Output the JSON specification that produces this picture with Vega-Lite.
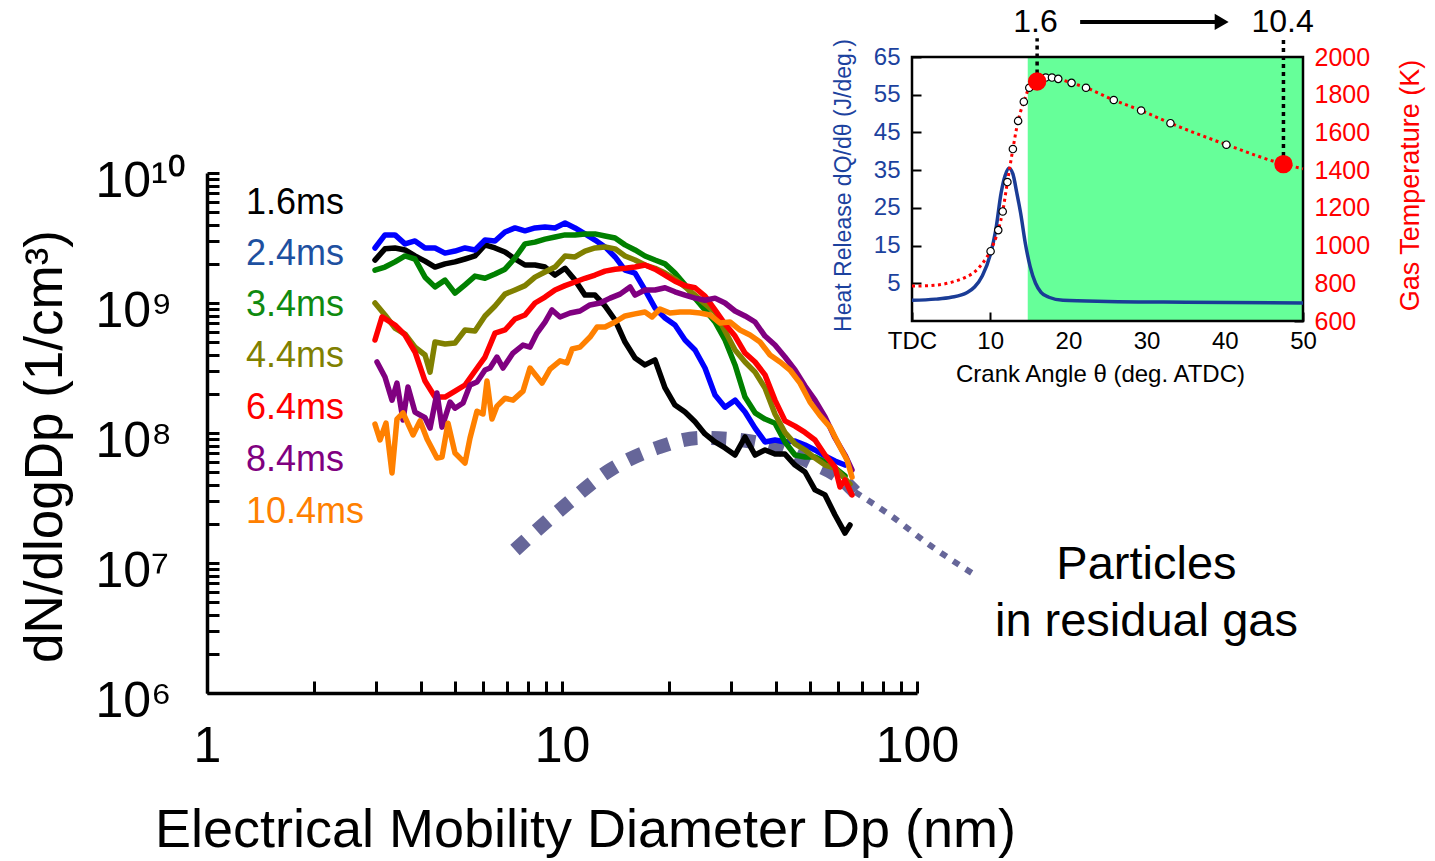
{
  "$schema": "https://vega.github.io/schema/vega-lite/v6.json",
  "width": 710,
  "height": 520,
  "autosize": {"type": "none"},
  "padding": {"left": 207, "top": 173, "right": 518, "bottom": 168},
  "background": "white",
  "config": {
    "view": {"stroke": null},
    "axis": {"labelFont": "Liberation Sans", "titleFont": "Liberation Sans"},
    "text": {"font": "Liberation Sans"}
  },
  "datasets": {
    "psd": [
      {"t":"1.6ms","d":2.973,"n":2.14e9},{"t":"1.6ms","d":3.172,"n":2.61e9},{"t":"1.6ms","d":3.385,"n":2.65e9},{"t":"1.6ms","d":3.612,"n":2.56e9},{"t":"1.6ms","d":3.854,"n":2.30e9},{"t":"1.6ms","d":4.113,"n":2.10e9},{"t":"1.6ms","d":4.388,"n":1.89e9},{"t":"1.6ms","d":4.682,"n":2.00e9},{"t":"1.6ms","d":4.996,"n":2.07e9},{"t":"1.6ms","d":5.331,"n":2.18e9},{"t":"1.6ms","d":5.687,"n":2.30e9},{"t":"1.6ms","d":6.069,"n":2.80e9},{"t":"1.6ms","d":6.476,"n":2.65e9},{"t":"1.6ms","d":6.909,"n":2.47e9},{"t":"1.6ms","d":7.372,"n":2.18e9},{"t":"1.6ms","d":7.866,"n":1.96e9},{"t":"1.6ms","d":8.394,"n":1.96e9},{"t":"1.6ms","d":8.957,"n":1.89e9},{"t":"1.6ms","d":9.557,"n":1.64e9},{"t":"1.6ms","d":10.20,"n":1.85e9},{"t":"1.6ms","d":10.88,"n":1.50e9},{"t":"1.6ms","d":11.61,"n":1.15e9},{"t":"1.6ms","d":12.39,"n":1.15e9},{"t":"1.6ms","d":13.22,"n":9.49e8},{"t":"1.6ms","d":14.11,"n":7.40e8},{"t":"1.6ms","d":15.05,"n":5.01e8},{"t":"1.6ms","d":16.06,"n":3.78e8},{"t":"1.6ms","d":17.13,"n":3.34e8},{"t":"1.6ms","d":18.28,"n":3.65e8},{"t":"1.6ms","d":19.51,"n":2.22e8},{"t":"1.6ms","d":20.81,"n":1.64e8},{"t":"1.6ms","d":22.21,"n":1.45e8},{"t":"1.6ms","d":23.70,"n":1.22e8},{"t":"1.6ms","d":25.28,"n":9.83e7},{"t":"1.6ms","d":26.98,"n":8.53e7},{"t":"1.6ms","d":28.79,"n":7.67e7},{"t":"1.6ms","d":30.72,"n":6.77e7},{"t":"1.6ms","d":32.78,"n":9.32e7},{"t":"1.6ms","d":34.98,"n":6.77e7},{"t":"1.6ms","d":37.31,"n":7.40e7},{"t":"1.6ms","d":39.81,"n":6.89e7},{"t":"1.6ms","d":42.48,"n":6.89e7},{"t":"1.6ms","d":45.33,"n":5.67e7},{"t":"1.6ms","d":48.37,"n":5.01e7},{"t":"1.6ms","d":51.61,"n":3.65e7},{"t":"1.6ms","d":55.07,"n":3.34e7},{"t":"1.6ms","d":58.75,"n":2.34e7},{"t":"1.6ms","d":62.69,"n":1.70e7},{"t":"1.6ms","d":64.76,"n":1.96e7},
      {"t":"2.4ms","d":2.973,"n":2.65e9},{"t":"2.4ms","d":3.172,"n":3.34e9},{"t":"2.4ms","d":3.385,"n":3.34e9},{"t":"2.4ms","d":3.612,"n":2.85e9},{"t":"2.4ms","d":3.854,"n":3.00e9},{"t":"2.4ms","d":4.113,"n":2.65e9},{"t":"2.4ms","d":4.388,"n":2.65e9},{"t":"2.4ms","d":4.682,"n":2.42e9},{"t":"2.4ms","d":4.996,"n":2.51e9},{"t":"2.4ms","d":5.331,"n":2.65e9},{"t":"2.4ms","d":5.687,"n":2.56e9},{"t":"2.4ms","d":6.069,"n":3.05e9},{"t":"2.4ms","d":6.476,"n":3.00e9},{"t":"2.4ms","d":6.909,"n":3.52e9},{"t":"2.4ms","d":7.372,"n":3.78e9},{"t":"2.4ms","d":7.866,"n":3.59e9},{"t":"2.4ms","d":8.394,"n":3.78e9},{"t":"2.4ms","d":8.957,"n":3.85e9},{"t":"2.4ms","d":9.557,"n":3.78e9},{"t":"2.4ms","d":10.20,"n":4.12e9},{"t":"2.4ms","d":10.88,"n":3.78e9},{"t":"2.4ms","d":11.61,"n":3.40e9},{"t":"2.4ms","d":12.39,"n":3.05e9},{"t":"2.4ms","d":13.22,"n":2.70e9},{"t":"2.4ms","d":14.11,"n":2.26e9},{"t":"2.4ms","d":15.05,"n":1.79e9},{"t":"2.4ms","d":16.06,"n":1.70e9},{"t":"2.4ms","d":17.13,"n":1.26e9},{"t":"2.4ms","d":18.28,"n":9.16e8},{"t":"2.4ms","d":19.51,"n":7.67e8},{"t":"2.4ms","d":20.81,"n":6.77e8},{"t":"2.4ms","d":22.21,"n":5.19e8},{"t":"2.4ms","d":23.70,"n":4.35e8},{"t":"2.4ms","d":25.28,"n":3.16e8},{"t":"2.4ms","d":26.98,"n":1.96e8},{"t":"2.4ms","d":28.79,"n":1.58e8},{"t":"2.4ms","d":30.72,"n":1.79e8},{"t":"2.4ms","d":32.78,"n":1.45e8},{"t":"2.4ms","d":34.98,"n":1.09e8},{"t":"2.4ms","d":37.31,"n":8.53e7},{"t":"2.4ms","d":39.81,"n":8.84e7},{"t":"2.4ms","d":42.48,"n":8.53e7},{"t":"2.4ms","d":45.33,"n":8.68e7},{"t":"2.4ms","d":48.37,"n":8.09e7},{"t":"2.4ms","d":51.61,"n":7.40e7},{"t":"2.4ms","d":55.07,"n":6.65e7},{"t":"2.4ms","d":58.75,"n":6.09e7},{"t":"2.4ms","d":62.69,"n":5.67e7},
      {"t":"3.4ms","d":2.973,"n":1.79e9},{"t":"3.4ms","d":3.172,"n":1.89e9},{"t":"3.4ms","d":3.385,"n":2.07e9},{"t":"3.4ms","d":3.612,"n":2.30e9},{"t":"3.4ms","d":3.854,"n":2.18e9},{"t":"3.4ms","d":4.113,"n":1.58e9},{"t":"3.4ms","d":4.388,"n":1.33e9},{"t":"3.4ms","d":4.682,"n":1.50e9},{"t":"3.4ms","d":4.996,"n":1.19e9},{"t":"3.4ms","d":5.331,"n":1.38e9},{"t":"3.4ms","d":5.687,"n":1.61e9},{"t":"3.4ms","d":6.069,"n":1.55e9},{"t":"3.4ms","d":6.476,"n":1.67e9},{"t":"3.4ms","d":6.909,"n":1.82e9},{"t":"3.4ms","d":7.372,"n":2.22e9},{"t":"3.4ms","d":7.866,"n":2.85e9},{"t":"3.4ms","d":8.394,"n":2.94e9},{"t":"3.4ms","d":8.957,"n":3.10e9},{"t":"3.4ms","d":9.557,"n":3.22e9},{"t":"3.4ms","d":10.20,"n":3.34e9},{"t":"3.4ms","d":10.88,"n":3.34e9},{"t":"3.4ms","d":11.61,"n":3.40e9},{"t":"3.4ms","d":12.39,"n":3.40e9},{"t":"3.4ms","d":13.22,"n":3.28e9},{"t":"3.4ms","d":14.11,"n":3.16e9},{"t":"3.4ms","d":15.05,"n":2.80e9},{"t":"3.4ms","d":16.06,"n":2.56e9},{"t":"3.4ms","d":17.13,"n":2.30e9},{"t":"3.4ms","d":18.28,"n":2.14e9},{"t":"3.4ms","d":19.51,"n":2.00e9},{"t":"3.4ms","d":20.81,"n":1.70e9},{"t":"3.4ms","d":22.21,"n":1.38e9},{"t":"3.4ms","d":23.70,"n":1.09e9},{"t":"3.4ms","d":25.28,"n":8.84e8},{"t":"3.4ms","d":26.98,"n":7.14e8},{"t":"3.4ms","d":28.79,"n":5.19e8},{"t":"3.4ms","d":30.72,"n":3.34e8},{"t":"3.4ms","d":32.78,"n":1.89e8},{"t":"3.4ms","d":34.98,"n":1.43e8},{"t":"3.4ms","d":37.31,"n":1.28e8},{"t":"3.4ms","d":39.81,"n":1.19e8},{"t":"3.4ms","d":42.48,"n":8.53e7},{"t":"3.4ms","d":45.33,"n":6.77e7},{"t":"3.4ms","d":48.37,"n":6.53e7},{"t":"3.4ms","d":51.61,"n":6.53e7},{"t":"3.4ms","d":55.07,"n":5.98e7},{"t":"3.4ms","d":58.75,"n":5.38e7},{"t":"3.4ms","d":62.69,"n":4.67e7},
      {"t":"4.4ms","d":2.973,"n":1.00e9},{"t":"4.4ms","d":3.172,"n":8.09e8},{"t":"4.4ms","d":3.385,"n":6.42e8},{"t":"4.4ms","d":3.612,"n":5.77e8},{"t":"4.4ms","d":3.854,"n":4.58e8},{"t":"4.4ms","d":4.113,"n":3.98e8},{"t":"4.4ms","d":4.249,"n":2.94e8},{"t":"4.4ms","d":4.388,"n":5.01e8},{"t":"4.4ms","d":4.682,"n":4.84e8},{"t":"4.4ms","d":4.996,"n":4.92e8},{"t":"4.4ms","d":5.331,"n":6.20e8},{"t":"4.4ms","d":5.687,"n":6.09e8},{"t":"4.4ms","d":6.069,"n":7.95e8},{"t":"4.4ms","d":6.476,"n":9.49e8},{"t":"4.4ms","d":6.909,"n":1.17e9},{"t":"4.4ms","d":7.372,"n":1.26e9},{"t":"4.4ms","d":7.866,"n":1.36e9},{"t":"4.4ms","d":8.394,"n":1.58e9},{"t":"4.4ms","d":8.957,"n":1.73e9},{"t":"4.4ms","d":9.557,"n":1.89e9},{"t":"4.4ms","d":10.20,"n":2.30e9},{"t":"4.4ms","d":10.88,"n":2.26e9},{"t":"4.4ms","d":11.61,"n":2.51e9},{"t":"4.4ms","d":12.39,"n":2.65e9},{"t":"4.4ms","d":13.22,"n":2.70e9},{"t":"4.4ms","d":14.11,"n":2.61e9},{"t":"4.4ms","d":15.05,"n":2.30e9},{"t":"4.4ms","d":16.06,"n":2.14e9},{"t":"4.4ms","d":17.13,"n":1.96e9},{"t":"4.4ms","d":18.28,"n":1.85e9},{"t":"4.4ms","d":19.51,"n":1.70e9},{"t":"4.4ms","d":20.81,"n":1.53e9},{"t":"4.4ms","d":22.21,"n":1.33e9},{"t":"4.4ms","d":23.70,"n":1.15e9},{"t":"4.4ms","d":25.28,"n":9.83e8},{"t":"4.4ms","d":26.98,"n":8.53e8},{"t":"4.4ms","d":28.79,"n":6.09e8},{"t":"4.4ms","d":30.72,"n":4.35e8},{"t":"4.4ms","d":32.78,"n":3.52e8},{"t":"4.4ms","d":34.98,"n":2.94e8},{"t":"4.4ms","d":37.31,"n":2.22e8},{"t":"4.4ms","d":39.81,"n":1.40e8},{"t":"4.4ms","d":42.48,"n":1.01e8},{"t":"4.4ms","d":45.33,"n":8.24e7},{"t":"4.4ms","d":48.37,"n":7.40e7},{"t":"4.4ms","d":51.61,"n":6.42e7},{"t":"4.4ms","d":55.07,"n":5.67e7},{"t":"4.4ms","d":58.75,"n":5.38e7},{"t":"4.4ms","d":64.76,"n":4.05e7},
      {"t":"6.4ms","d":2.973,"n":5.19e8},{"t":"6.4ms","d":3.111,"n":7.81e8},{"t":"6.4ms","d":3.385,"n":6.77e8},{"t":"6.4ms","d":3.612,"n":5.67e8},{"t":"6.4ms","d":3.854,"n":4.20e8},{"t":"6.4ms","d":4.113,"n":2.51e8},{"t":"6.4ms","d":4.388,"n":1.89e8},{"t":"6.4ms","d":4.682,"n":1.89e8},{"t":"6.4ms","d":4.996,"n":2.10e8},{"t":"6.4ms","d":5.331,"n":2.34e8},{"t":"6.4ms","d":5.687,"n":3.00e8},{"t":"6.4ms","d":6.069,"n":3.84e8},{"t":"6.4ms","d":6.476,"n":5.87e8},{"t":"6.4ms","d":6.909,"n":6.20e8},{"t":"6.4ms","d":7.372,"n":7.53e8},{"t":"6.4ms","d":7.866,"n":8.09e8},{"t":"6.4ms","d":8.394,"n":1.00e9},{"t":"6.4ms","d":8.957,"n":1.11e9},{"t":"6.4ms","d":9.557,"n":1.26e9},{"t":"6.4ms","d":10.20,"n":1.36e9},{"t":"6.4ms","d":10.88,"n":1.45e9},{"t":"6.4ms","d":11.61,"n":1.55e9},{"t":"6.4ms","d":12.39,"n":1.64e9},{"t":"6.4ms","d":13.22,"n":1.76e9},{"t":"6.4ms","d":14.11,"n":1.82e9},{"t":"6.4ms","d":15.05,"n":1.85e9},{"t":"6.4ms","d":16.06,"n":1.89e9},{"t":"6.4ms","d":17.13,"n":1.96e9},{"t":"6.4ms","d":18.28,"n":1.82e9},{"t":"6.4ms","d":19.51,"n":1.64e9},{"t":"6.4ms","d":20.81,"n":1.47e9},{"t":"6.4ms","d":22.21,"n":1.36e9},{"t":"6.4ms","d":23.70,"n":1.31e9},{"t":"6.4ms","d":25.28,"n":1.13e9},{"t":"6.4ms","d":26.98,"n":8.84e8},{"t":"6.4ms","d":28.79,"n":6.89e8},{"t":"6.4ms","d":30.72,"n":5.57e8},{"t":"6.4ms","d":32.78,"n":4.12e8},{"t":"6.4ms","d":34.98,"n":3.52e8},{"t":"6.4ms","d":37.31,"n":2.80e8},{"t":"6.4ms","d":39.81,"n":1.79e8},{"t":"6.4ms","d":42.48,"n":1.24e8},{"t":"6.4ms","d":45.33,"n":1.13e8},{"t":"6.4ms","d":48.37,"n":1.01e8},{"t":"6.4ms","d":51.61,"n":8.84e7},{"t":"6.4ms","d":55.07,"n":6.77e7},{"t":"6.4ms","d":58.75,"n":5.47e7},{"t":"6.4ms","d":60.70,"n":3.84e7},{"t":"6.4ms","d":62.69,"n":4.35e7},{"t":"6.4ms","d":65.6,"n":3.34e7},
      {"t":"8.4ms","d":3.012,"n":3.52e8},{"t":"8.4ms","d":3.172,"n":2.70e8},{"t":"8.4ms","d":3.320,"n":1.79e8},{"t":"8.4ms","d":3.429,"n":2.42e8},{"t":"8.4ms","d":3.566,"n":1.26e8},{"t":"8.4ms","d":3.683,"n":2.26e8},{"t":"8.4ms","d":3.854,"n":1.45e8},{"t":"8.4ms","d":4.113,"n":1.31e8},{"t":"8.4ms","d":4.249,"n":1.09e8},{"t":"8.4ms","d":4.445,"n":2.03e8},{"t":"8.4ms","d":4.592,"n":1.11e8},{"t":"8.4ms","d":4.837,"n":1.73e8},{"t":"8.4ms","d":4.996,"n":1.55e8},{"t":"8.4ms","d":5.263,"n":1.70e8},{"t":"8.4ms","d":5.507,"n":2.34e8},{"t":"8.4ms","d":5.761,"n":2.47e8},{"t":"8.4ms","d":6.069,"n":3.05e8},{"t":"8.4ms","d":6.269,"n":3.16e8},{"t":"8.4ms","d":6.560,"n":3.84e8},{"t":"8.4ms","d":6.820,"n":3.16e8},{"t":"8.4ms","d":7.277,"n":4.12e8},{"t":"8.4ms","d":7.765,"n":4.75e8},{"t":"8.4ms","d":8.126,"n":4.58e8},{"t":"8.4ms","d":8.503,"n":5.87e8},{"t":"8.4ms","d":8.957,"n":7.14e8},{"t":"8.4ms","d":9.372,"n":8.84e8},{"t":"8.4ms","d":9.873,"n":7.81e8},{"t":"8.4ms","d":10.54,"n":8.38e8},{"t":"8.4ms","d":11.24,"n":8.68e8},{"t":"8.4ms","d":11.99,"n":9.66e8},{"t":"8.4ms","d":12.80,"n":1.00e9},{"t":"8.4ms","d":13.66,"n":1.09e9},{"t":"8.4ms","d":14.57,"n":1.17e9},{"t":"8.4ms","d":15.55,"n":1.33e9},{"t":"8.4ms","d":16.06,"n":1.15e9},{"t":"8.4ms","d":17.13,"n":1.26e9},{"t":"8.4ms","d":18.28,"n":1.26e9},{"t":"8.4ms","d":19.51,"n":1.31e9},{"t":"8.4ms","d":20.81,"n":1.22e9},{"t":"8.4ms","d":22.21,"n":1.15e9},{"t":"8.4ms","d":23.70,"n":1.09e9},{"t":"8.4ms","d":25.28,"n":1.05e9},{"t":"8.4ms","d":26.98,"n":1.09e9},{"t":"8.4ms","d":28.79,"n":1.00e9},{"t":"8.4ms","d":30.72,"n":8.68e8},{"t":"8.4ms","d":32.78,"n":7.95e8},{"t":"8.4ms","d":34.98,"n":7.14e8},{"t":"8.4ms","d":37.31,"n":5.57e8},{"t":"8.4ms","d":39.81,"n":4.75e8},{"t":"8.4ms","d":42.48,"n":3.84e8},{"t":"8.4ms","d":45.33,"n":3.05e8},{"t":"8.4ms","d":48.37,"n":2.30e8},{"t":"8.4ms","d":51.61,"n":1.79e8},{"t":"8.4ms","d":55.07,"n":1.33e8},{"t":"8.4ms","d":58.75,"n":9.16e7},{"t":"8.4ms","d":62.69,"n":6.77e7},{"t":"8.4ms","d":65.6,"n":5.19e7},
      {"t":"10.4ms","d":2.973,"n":1.17e8},{"t":"10.4ms","d":3.071,"n":8.84e7},{"t":"10.4ms","d":3.193,"n":1.19e8},{"t":"10.4ms","d":3.320,"n":4.92e7},{"t":"10.4ms","d":3.429,"n":1.28e8},{"t":"10.4ms","d":3.566,"n":1.43e8},{"t":"10.4ms","d":3.805,"n":9.66e7},{"t":"10.4ms","d":3.981,"n":1.24e8},{"t":"10.4ms","d":4.167,"n":9.00e7},{"t":"10.4ms","d":4.445,"n":6.42e7},{"t":"10.4ms","d":4.592,"n":6.53e7},{"t":"10.4ms","d":4.774,"n":1.19e8},{"t":"10.4ms","d":4.996,"n":7.01e7},{"t":"10.4ms","d":5.331,"n":5.87e7},{"t":"10.4ms","d":5.507,"n":9.16e7},{"t":"10.4ms","d":5.761,"n":1.47e8},{"t":"10.4ms","d":5.991,"n":1.40e8},{"t":"10.4ms","d":6.148,"n":2.51e8},{"t":"10.4ms","d":6.351,"n":1.28e8},{"t":"10.4ms","d":6.560,"n":1.61e8},{"t":"10.4ms","d":6.909,"n":1.85e8},{"t":"10.4ms","d":7.277,"n":1.79e8},{"t":"10.4ms","d":7.765,"n":2.10e8},{"t":"10.4ms","d":8.126,"n":3.16e8},{"t":"10.4ms","d":8.784,"n":2.42e8},{"t":"10.4ms","d":9.253,"n":3.10e8},{"t":"10.4ms","d":9.873,"n":3.59e8},{"t":"10.4ms","d":10.33,"n":3.46e8},{"t":"10.4ms","d":10.68,"n":4.43e8},{"t":"10.4ms","d":11.24,"n":4.58e8},{"t":"10.4ms","d":11.99,"n":5.47e8},{"t":"10.4ms","d":12.55,"n":6.53e8},{"t":"10.4ms","d":13.22,"n":6.53e8},{"t":"10.4ms","d":14.11,"n":7.14e8},{"t":"10.4ms","d":15.05,"n":7.95e8},{"t":"10.4ms","d":16.06,"n":8.24e8},{"t":"10.4ms","d":17.13,"n":8.53e8},{"t":"10.4ms","d":17.93,"n":7.81e8},{"t":"10.4ms","d":18.88,"n":9.00e8},{"t":"10.4ms","d":20.15,"n":8.38e8},{"t":"10.4ms","d":21.50,"n":8.53e8},{"t":"10.4ms","d":22.94,"n":8.53e8},{"t":"10.4ms","d":24.48,"n":8.38e8},{"t":"10.4ms","d":26.12,"n":8.09e8},{"t":"10.4ms","d":27.87,"n":7.01e8},{"t":"10.4ms","d":29.74,"n":7.14e8},{"t":"10.4ms","d":31.73,"n":6.20e8},{"t":"10.4ms","d":33.86,"n":5.67e8},{"t":"10.4ms","d":36.13,"n":5.01e8},{"t":"10.4ms","d":38.55,"n":3.98e8},{"t":"10.4ms","d":41.13,"n":3.52e8},{"t":"10.4ms","d":43.88,"n":3.05e8},{"t":"10.4ms","d":46.83,"n":2.42e8},{"t":"10.4ms","d":49.96,"n":1.73e8},{"t":"10.4ms","d":53.32,"n":1.36e8},{"t":"10.4ms","d":56.89,"n":1.11e8},{"t":"10.4ms","d":60.70,"n":7.81e7},{"t":"10.4ms","d":63.51,"n":6.20e7},{"t":"10.4ms","d":65.6,"n":4.58e7}
    ]
  },
  "layer": [
    {
      "data": {"values": [
        {"d":7.372,"n":1.26e7},{"d":9.873,"n":2.56e7},{"d":13.66,"n":5.19e7},{"d":18.88,"n":7.81e7},{"d":24.48,"n":9.16e7},{"d":31.73,"n":8.84e7},{"d":41.13,"n":7.53e7},{"d":49.96,"n":5.98e7},{"d":60.70,"n":4.51e7},{"d":66.9,"n":3.52e7}
      ]},
      "mark": {"type": "line", "color": "#666699", "strokeWidth": 14, "strokeDash": [15, 14], "interpolate": "monotone"},
      "encoding": {
        "x": {"field": "d", "type": "quantitative", "scale": {"type": "log", "domain": [1, 100], "nice": false}, "axis": null},
        "y": {"field": "n", "type": "quantitative", "scale": {"type": "log", "domain": [1e6, 1e10], "nice": false}, "axis": null}
      }
    },
    {
      "data": {"values": [
        {"d":66.9,"n":3.52e7},{"d":83.9,"n":2.34e7},{"d":108.8,"n":1.37e7},{"d":145.6,"n":8.09e6}
      ]},
      "mark": {"type": "line", "color": "#666699", "strokeWidth": 6, "strokeDash": [7, 8], "interpolate": "monotone"},
      "encoding": {
        "x": {"field": "d", "type": "quantitative", "scale": {"type": "log", "domain": [1, 100], "nice": false}, "axis": null},
        "y": {"field": "n", "type": "quantitative", "scale": {"type": "log", "domain": [1e6, 1e10], "nice": false}, "axis": null}
      }
    },
    {
      "data": {"name": "psd"},
      "mark": {"type": "line", "strokeWidth": 5.5, "strokeJoin": "round", "strokeCap": "round"},
      "encoding": {
        "x": {"field": "d", "type": "quantitative",
          "scale": {"type": "log", "domain": [1, 100], "nice": false},
          "axis": {
            "orient": "bottom",
            "values": [1,2,3,4,5,6,7,8,9,10,20,30,40,50,60,70,80,90,100],
            "labelExpr": "datum.value == 1 || datum.value == 10 || datum.value == 100 ? '' + datum.value : ''",
            "grid": false, "domainColor": "black", "domainWidth": 3.5, "tickColor": "black", "tickWidth": 3, "tickSize": -12,
            "labelFontSize": 50, "labelColor": "black", "labelPadding": 40, "labelBaseline": "top", "labelFlush": false, "labelOverlap": false,
            "title": "Electrical Mobility Diameter Dp (nm)", "titleFontSize": 54, "titleFontWeight": "normal", "titleColor": "black",
            "titleX": 378, "titleY": 137, "titleAlign": "center", "titleBaseline": "middle",
            "encode": {"ticks": {"y2": {"condition": {"test": "datum.value == 1 || datum.value == 10 || datum.value == 100", "value": -18}, "value": -10}}}
          }
        },
        "y": {"field": "n", "type": "quantitative",
          "scale": {"type": "log", "domain": [1e6, 1e10], "nice": false},
          "axis": {
            "orient": "left",
            "values": [1e6,2e6,3e6,4e6,5e6,6e6,7e6,8e6,9e6,1e7,2e7,3e7,4e7,5e7,6e7,7e7,8e7,9e7,1e8,2e8,3e8,4e8,5e8,6e8,7e8,8e8,9e8,1e9,2e9,3e9,4e9,5e9,6e9,7e9,8e9,9e9,1e10],
            "labelExpr": "datum.value == 1e10 ? '10¹⁰' : datum.value == 1e9 ? '10⁹' : datum.value == 1e8 ? '10⁸' : datum.value == 1e7 ? '10⁷' : datum.value == 1e6 ? '10⁶' : ''",
            "grid": false, "domainColor": "black", "domainWidth": 3.5, "tickColor": "black", "tickWidth": 3, "tickSize": -12,
            "labelFontSize": 50, "labelColor": "black", "labelPadding": 124, "labelAlign": "left", "labelBaseline": "middle", "labelOffset": 8, "labelFlush": false, "labelOverlap": false,
            "title": "dN/dlogDp (1/cm³)", "titleFontSize": 53, "titleFontWeight": "normal", "titleColor": "black",
            "titleX": -162, "titleY": 273, "titleAngle": 270, "titleAlign": "center", "titleBaseline": "middle",
            "encode": {"ticks": {"x2": {"condition": {"test": "datum.value == 1e6 || datum.value == 1e7 || datum.value == 1e8 || datum.value == 1e9 || datum.value == 1e10", "value": 18}, "value": 10}}}
          }
        },
        "color": {"field": "t", "type": "nominal", "legend": null,
          "scale": {"domain": ["1.6ms","2.4ms","3.4ms","4.4ms","6.4ms","8.4ms","10.4ms"], "range": ["#000000","#0000ff","#008000","#808000","#ff0000","#800080","#ff8000"]}}
      }
    },
    {
      "data": {"values": [
        {"lab":"1.6ms","d":1.288,"n":5.88e9},{"lab":"2.4ms","d":1.288,"n":2.38e9},{"lab":"3.4ms","d":1.288,"n":9.66e8},{"lab":"4.4ms","d":1.288,"n":3.91e8},{"lab":"6.4ms","d":1.288,"n":1.56e8},{"lab":"8.4ms","d":1.288,"n":6.20e7},{"lab":"10.4ms","d":1.288,"n":2.47e7}
      ]},
      "mark": {"type": "text", "align": "left", "baseline": "middle", "fontSize": 36, "font": "Liberation Sans"},
      "encoding": {
        "x": {"field": "d", "type": "quantitative", "scale": {"type": "log", "domain": [1, 100], "nice": false}, "axis": null},
        "y": {"field": "n", "type": "quantitative", "scale": {"type": "log", "domain": [1e6, 1e10], "nice": false}, "axis": null},
        "text": {"field": "lab"},
        "color": {"field": "lab", "type": "nominal", "legend": null,
          "scale": {"domain": ["1.6ms","2.4ms","3.4ms","4.4ms","6.4ms","8.4ms","10.4ms"], "range": ["#000000","#1e50a0","#108a10","#808000","#ff0000","#800080","#ff8000"]}}
      }
    },
    {
      "data": {"values": [
        {"txt":"Particles","d":443,"n":9.66e6},{"txt":"in residual gas","d":443,"n":3.52e6}
      ]},
      "mark": {"type": "text", "align": "center", "baseline": "middle", "fontSize": 47, "font": "Liberation Sans", "color": "black"},
      "encoding": {
        "x": {"field": "d", "type": "quantitative", "scale": {"type": "log", "domain": [1, 100], "nice": false}, "axis": null},
        "y": {"field": "n", "type": "quantitative", "scale": {"type": "log", "domain": [1e6, 1e10], "nice": false}, "axis": null},
        "text": {"field": "txt"}
      }
    },
    {
      "data": {"values": [{"a":14.8,"a2":50,"q":-5,"q2":65}]},
      "mark": {"type": "rect", "color": "#66ff99"},
      "encoding": {
        "x": {"field": "a", "type": "quantitative", "scale": {"domain": [0, 50], "range": [705, 1096], "nice": false, "zero": false}, "axis": null},
        "x2": {"field": "a2"},
        "y": {"field": "q", "type": "quantitative", "scale": {"domain": [-5, 65], "range": [148, -116], "nice": false, "zero": false}, "axis": null},
        "y2": {"field": "q2"}
      }
    },
    {
      "data": {"values": [{"a":0,"a2":50,"q":-5,"q2":65}]},
      "mark": {"type": "rect", "filled": false, "stroke": "black", "strokeWidth": 2.5},
      "encoding": {
        "x": {"field": "a", "type": "quantitative", "scale": {"domain": [0, 50], "range": [705, 1096], "nice": false, "zero": false}, "axis": null},
        "x2": {"field": "a2"},
        "y": {"field": "q", "type": "quantitative", "scale": {"domain": [-5, 65], "range": [148, -116], "nice": false, "zero": false}, "axis": null},
        "y2": {"field": "q2"}
      }
    },
    {
      "data": {"values": [
        {"a":0,"q":0.5},{"a":3,"q":0.8},{"a":5,"q":1.3},{"a":7,"q":2.5},{"a":8,"q":4},{"a":9,"q":7},{"a":10,"q":12.5},{"a":10.7,"q":19},{"a":11.4,"q":29},{"a":11.9,"q":33.5},{"a":12.4,"q":35.5},{"a":12.9,"q":34},{"a":13.4,"q":29},{"a":13.9,"q":23.5},{"a":14.5,"q":15.5},{"a":15.1,"q":9.5},{"a":15.8,"q":5},{"a":16.5,"q":2.6},{"a":17.5,"q":1.3},{"a":19.3,"q":0.5},{"a":25,"q":0.2},{"a":35,"q":0},{"a":50,"q":-0.2}
      ]},
      "mark": {"type": "line", "color": "#1a3c96", "strokeWidth": 3.5, "interpolate": "monotone"},
      "encoding": {
        "x": {"field": "a", "type": "quantitative", "scale": {"domain": [0, 50], "range": [705, 1096], "nice": false, "zero": false},
          "axis": {
            "orient": "bottom", "offset": -372, "values": [0,10,20,30,40,50],
            "labelExpr": "datum.value == 0 ? 'TDC' : datum.label",
            "grid": false, "domain": false, "tickColor": "black", "tickWidth": 2, "tickSize": -9,
            "labelFontSize": 24, "labelColor": "black", "labelPadding": 17, "labelBaseline": "top", "labelFlush": false, "labelOverlap": false,
            "title": "Crank Angle θ (deg. ATDC)", "titleFontSize": 24, "titleFontWeight": "normal", "titleColor": "black",
            "titleX": 893, "titleY": 53, "titleAlign": "center", "titleBaseline": "middle"
          }
        },
        "y": {"field": "q", "type": "quantitative", "scale": {"domain": [-5, 65], "range": [148, -116], "nice": false, "zero": false},
          "axis": {
            "orient": "left", "offset": -705, "values": [5,15,25,35,45,55,65],
            "grid": false, "domain": false, "tickColor": "black", "tickWidth": 2, "tickSize": -9,
            "labelFontSize": 24, "labelColor": "#1c429e", "labelPadding": 21, "labelBaseline": "middle", "labelFlush": false, "labelOverlap": false,
            "title": "Heat Release dQ/dθ (J/deg.)", "titleFontSize": 23, "titleFontWeight": "normal", "titleColor": "#1c429e",
            "titleX": -69, "titleY": 12, "titleAngle": 270, "titleAlign": "center", "titleBaseline": "middle"
          }
        }
      }
    },
    {
      "data": {"values": [
        {"a":0,"T":785},{"a":3,"T":790},{"a":5,"T":805},{"a":7,"T":835},{"a":8,"T":860},{"a":9,"T":905},{"a":9.6,"T":940},{"a":10.05,"T":975},{"a":11.03,"T":1082},{"a":11.6,"T":1181},{"a":12.2,"T":1337},{"a":12.9,"T":1512},{"a":13.57,"T":1661},{"a":14.3,"T":1763},{"a":15.0,"T":1837},{"a":16.0,"T":1870},{"a":17.1,"T":1891},{"a":17.9,"T":1891},{"a":18.7,"T":1884},{"a":20.4,"T":1863},{"a":22.25,"T":1837},{"a":25.8,"T":1772},{"a":29.3,"T":1716},{"a":33.05,"T":1649},{"a":40.2,"T":1535},{"a":47.5,"T":1432},{"a":50,"T":1407}
      ]},
      "mark": {"type": "line", "color": "#ff0000", "strokeWidth": 3, "strokeDash": [3, 3.5], "interpolate": "monotone"},
      "encoding": {
        "x": {"field": "a", "type": "quantitative", "scale": {"domain": [0, 50], "range": [705, 1096], "nice": false, "zero": false}, "axis": null},
        "y": {"field": "T", "type": "quantitative", "scale": {"domain": [600, 2000], "range": [148, -116], "nice": false, "zero": false},
          "axis": {
            "orient": "right", "offset": 386, "values": [600,800,1000,1200,1400,1600,1800,2000], "format": "d",
            "grid": false, "domain": false, "tickColor": "black", "tickWidth": 2, "tickSize": -9,
            "labelFontSize": 25, "labelColor": "#ff0000", "labelPadding": 20, "labelAlign": "left", "labelBaseline": "middle", "labelFlush": false, "labelOverlap": false,
            "title": "Gas Temperature (K)", "titleFontSize": 27, "titleFontWeight": "normal", "titleColor": "#ff0000",
            "titleX": 107, "titleY": 12, "titleAngle": 270, "titleAlign": "center", "titleBaseline": "middle"
          }
        }
      }
    },
    {
      "data": {"values": [{"a":16.0,"T":1870,"T2":2100},{"a":47.5,"T":1432,"T2":2100}]},
      "mark": {"type": "rule", "color": "black", "strokeWidth": 3.5, "strokeDash": [4, 4]},
      "encoding": {
        "x": {"field": "a", "type": "quantitative", "scale": {"domain": [0, 50], "range": [705, 1096], "nice": false, "zero": false}, "axis": null},
        "y": {"field": "T", "type": "quantitative", "scale": {"domain": [600, 2000], "range": [148, -116], "nice": false, "zero": false}, "axis": null},
        "y2": {"field": "T2"}
      }
    },
    {
      "data": {"values": [
        {"a":10.05,"T":970},{"a":11.03,"T":1082},{"a":11.6,"T":1181},{"a":12.2,"T":1337},{"a":12.9,"T":1512},{"a":13.57,"T":1661},{"a":14.3,"T":1763},{"a":15.0,"T":1837},{"a":17.1,"T":1891},{"a":17.9,"T":1891},{"a":18.7,"T":1884},{"a":20.4,"T":1863},{"a":22.25,"T":1837},{"a":25.8,"T":1772},{"a":29.3,"T":1716},{"a":33.05,"T":1649},{"a":40.2,"T":1535}
      ]},
      "mark": {"type": "point", "shape": "circle", "filled": true, "fill": "white", "stroke": "black", "strokeWidth": 1.2, "size": 55, "opacity": 1},
      "encoding": {
        "x": {"field": "a", "type": "quantitative", "scale": {"domain": [0, 50], "range": [705, 1096], "nice": false, "zero": false}, "axis": null},
        "y": {"field": "T", "type": "quantitative", "scale": {"domain": [600, 2000], "range": [148, -116], "nice": false, "zero": false}, "axis": null}
      }
    },
    {
      "data": {"values": [{"a":16.0,"T":1870},{"a":47.5,"T":1432}]},
      "mark": {"type": "circle", "color": "#ff0000", "size": 340, "opacity": 1},
      "encoding": {
        "x": {"field": "a", "type": "quantitative", "scale": {"domain": [0, 50], "range": [705, 1096], "nice": false, "zero": false}, "axis": null},
        "y": {"field": "T", "type": "quantitative", "scale": {"domain": [600, 2000], "range": [148, -116], "nice": false, "zero": false}, "axis": null}
      }
    },
    {
      "data": {"values": [{"a":21.5,"a2":39.0,"T":2186}]},
      "mark": {"type": "rule", "color": "black", "strokeWidth": 4},
      "encoding": {
        "x": {"field": "a", "type": "quantitative", "scale": {"domain": [0, 50], "range": [705, 1096], "nice": false, "zero": false}, "axis": null},
        "x2": {"field": "a2"},
        "y": {"field": "T", "type": "quantitative", "scale": {"domain": [600, 2000], "range": [148, -116], "nice": false, "zero": false}, "axis": null}
      }
    },
    {
      "data": {"values": [{"a":39.6,"T":2186}]},
      "mark": {"type": "point", "shape": "triangle-right", "filled": true, "color": "black", "size": 260, "opacity": 1},
      "encoding": {
        "x": {"field": "a", "type": "quantitative", "scale": {"domain": [0, 50], "range": [705, 1096], "nice": false, "zero": false}, "axis": null},
        "y": {"field": "T", "type": "quantitative", "scale": {"domain": [600, 2000], "range": [148, -116], "nice": false, "zero": false}, "axis": null}
      }
    },
    {
      "data": {"values": [{"a":15.8,"T":2186,"label":"1.6"},{"a":47.4,"T":2186,"label":"10.4"}]},
      "mark": {"type": "text", "align": "center", "baseline": "middle", "fontSize": 32, "font": "Liberation Sans", "color": "black"},
      "encoding": {
        "x": {"field": "a", "type": "quantitative", "scale": {"domain": [0, 50], "range": [705, 1096], "nice": false, "zero": false}, "axis": null},
        "y": {"field": "T", "type": "quantitative", "scale": {"domain": [600, 2000], "range": [148, -116], "nice": false, "zero": false}, "axis": null},
        "text": {"field": "label"}
      }
    }
  ],
  "resolve": {"scale": {"x": "independent", "y": "independent", "color": "independent"}}
}
